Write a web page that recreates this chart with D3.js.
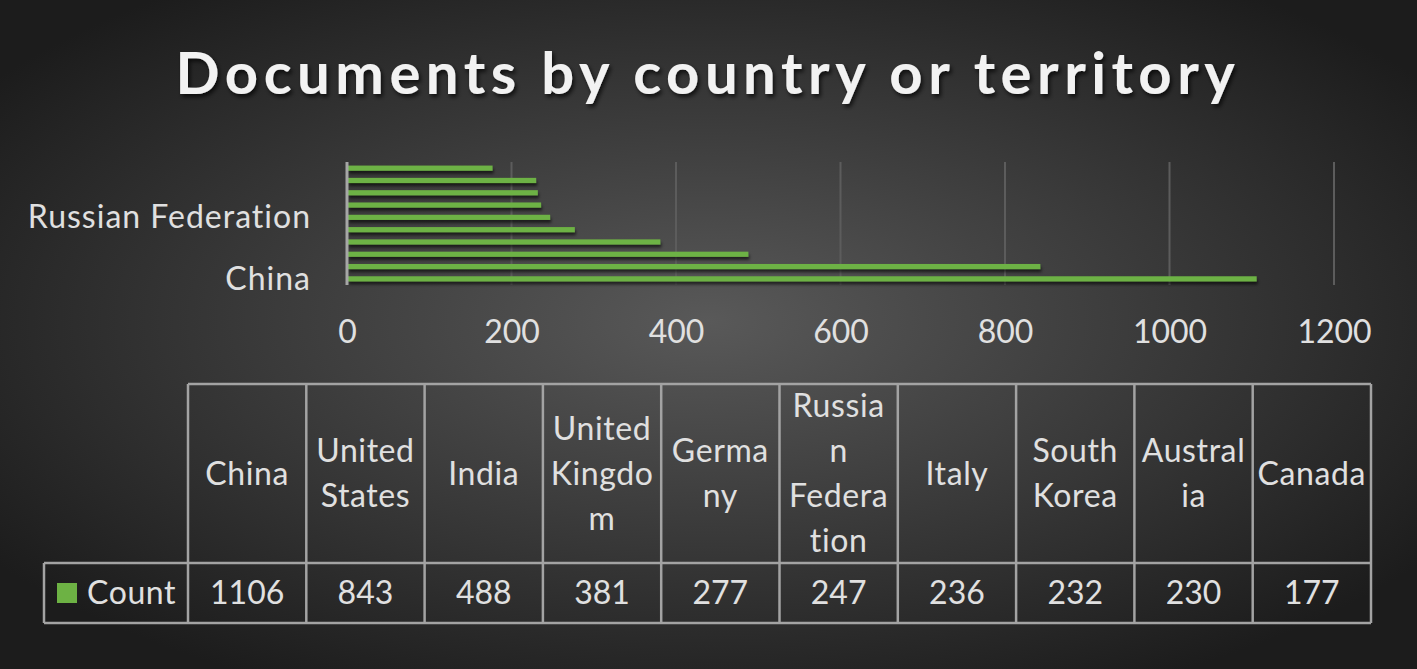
<!DOCTYPE html>
<html><head><meta charset="utf-8">
<script src="https://cdn.jsdelivr.net/npm/d3@7"></script>
<style>
html,body{margin:0;padding:0;background:#2a2a2a;}
svg{display:block;}
text{font-family:Lato,"Open Sans",sans-serif;}
</style></head>
<body>
<script>
const categories = ["China","United States","India","United Kingdom","Germany","Russian Federation","Italy","South Korea","Australia","Canada"];
const values = [1106,843,488,381,277,247,236,232,230,177];
const headerLines = [["China"],["United","States"],["India"],["United","Kingdo","m"],["Germa","ny"],["Russia","n","Federa","tion"],["Italy"],["South","Korea"],["Austral","ia"],["Canada"]];
const xTicks = [0,200,400,600,800,1000,1200];
const yLabelShown = ["China","Russian Federation"];
const title = "Documents by country or territory";
const seriesName = "Count";

const W = 1417, H = 669;
const svg = d3.select("body").append("svg").attr("width", W).attr("height", H);
const defs = svg.append("defs");
const rg = defs.append("radialGradient").attr("id","bg").attr("cx","50%").attr("cy","48%").attr("r","62%")
  .attr("gradientUnits","objectBoundingBox");
rg.append("stop").attr("offset","0%").attr("stop-color","#595959");
rg.append("stop").attr("offset","100%").attr("stop-color","#1c1c1c");
svg.append("rect").attr("width",W).attr("height",H).attr("fill","url(#bg)");

const sh = defs.append("filter").attr("id","ts").attr("x","-5%").attr("y","-20%").attr("width","110%").attr("height","150%");
sh.append("feDropShadow").attr("dx",2).attr("dy",3).attr("stdDeviation",2).attr("flood-color","#000").attr("flood-opacity",0.7);
const bs = defs.append("filter").attr("id","bs").attr("x","-2%").attr("y","-50%").attr("width","104%").attr("height","300%");
bs.append("feDropShadow").attr("dx",1).attr("dy",3).attr("stdDeviation",1.5).attr("flood-color","#000").attr("flood-opacity",0.6);

// Title
svg.append("text").attr("x",708).attr("y",94).attr("text-anchor","middle")
  .attr("font-size",58).attr("font-weight",700).attr("letter-spacing",5.5)
  .attr("fill","#f2f2f2").attr("filter","url(#ts)").text(title);

// Scales
const x = d3.scaleLinear().domain([0,1200]).range([347,1334]);
const y = d3.scaleBand().domain(categories.slice().reverse()).range([162,285]).paddingInner(0.58).paddingOuter(0.29);

// gridlines
svg.append("g").selectAll("line").data(xTicks.filter(d=>d>0)).join("line")
  .attr("x1",d=>x(d)).attr("x2",d=>x(d)).attr("y1",162).attr("y2",285)
  .attr("stroke","#5c5c5c").attr("stroke-width",2);

// bars
svg.append("g").attr("filter","url(#bs)").selectAll("rect").data(categories).join("rect")
  .attr("x",x(0)+1).attr("y",d=>y(d)).attr("height",y.bandwidth())
  .attr("width",(d,i)=>x(values[i])-x(0)-1).attr("fill","#6db244");

// y axis line
svg.append("line").attr("x1",x(0)).attr("x2",x(0)).attr("y1",162).attr("y2",285)
  .attr("stroke","#a6a6a6").attr("stroke-width",3);

// x axis labels
const xa = svg.append("g").attr("transform","translate(0,343)")
  .call(d3.axisBottom(x).tickValues(xTicks).tickFormat(d3.format("d")).tickSize(0).tickPadding(0));
xa.select(".domain").remove();
xa.selectAll("text").attr("font-size",32).attr("fill","#e0e0e0").attr("dy",0).attr("y",0)
  .style("font-family","Lato");

// y labels
const ya = svg.append("g").attr("transform","translate(311,0)")
  .call(d3.axisLeft(y).tickValues(yLabelShown).tickSize(0).tickPadding(0));
ya.select(".domain").remove();
ya.selectAll("text").attr("font-size",32).attr("letter-spacing",1).attr("fill","#e0e0e0").attr("dy","0.34em")
  .style("font-family","Lato");

// Data table
const cx = d3.scaleBand().domain(categories).range([188,1371]);
const tTop = 384, tMid = 563, tBot = 623, tLeft = 44;
const tg = svg.append("g");
const lc = "#a3a3a3", lw = 2.5;
tg.append("line").attr("x1",cx.range()[0]).attr("x2",cx.range()[1]).attr("y1",tTop).attr("y2",tTop).attr("stroke",lc).attr("stroke-width",lw);
tg.append("line").attr("x1",tLeft).attr("x2",cx.range()[1]).attr("y1",tMid).attr("y2",tMid).attr("stroke",lc).attr("stroke-width",lw);
tg.append("line").attr("x1",tLeft).attr("x2",cx.range()[1]).attr("y1",tBot).attr("y2",tBot).attr("stroke",lc).attr("stroke-width",lw);
tg.append("line").attr("x1",tLeft).attr("x2",tLeft).attr("y1",tMid).attr("y2",tBot).attr("stroke",lc).attr("stroke-width",lw);
tg.selectAll("line.v").data(categories.concat(["end"])).join("line").attr("class","v")
  .attr("x1",(d,i)=>i<categories.length?cx(d):cx.range()[1])
  .attr("x2",(d,i)=>i<categories.length?cx(d):cx.range()[1])
  .attr("y1",tTop).attr("y2",tBot).attr("stroke",lc).attr("stroke-width",lw);

const lh = 45, hc = (tTop+tMid)/2;
categories.forEach((c,i)=>{
  const lines = headerLines[i];
  const t = tg.append("text").attr("text-anchor","middle").attr("font-size",32).attr("letter-spacing",0.6).attr("fill","#e0e0e0");
  lines.forEach((ln,j)=>{
    t.append("tspan").attr("x",cx(c)+cx.bandwidth()/2)
     .attr("y",hc + (j-(lines.length-1)/2)*lh).attr("dy","0.35em").text(ln);
  });
  tg.append("text").attr("x",cx(c)+cx.bandwidth()/2).attr("y",(tMid+tBot)/2).attr("dy","0.35em")
    .attr("text-anchor","middle").attr("font-size",32).attr("fill","#e0e0e0").text(values[i]);
});
tg.append("rect").attr("x",57).attr("y",583).attr("width",20).attr("height",20).attr("fill","#6db244");
tg.append("text").attr("x",87).attr("y",(tMid+tBot)/2).attr("dy","0.35em").attr("font-size",32).attr("letter-spacing",0.6).attr("fill","#e0e0e0").text(seriesName);
</script>
</body></html>
